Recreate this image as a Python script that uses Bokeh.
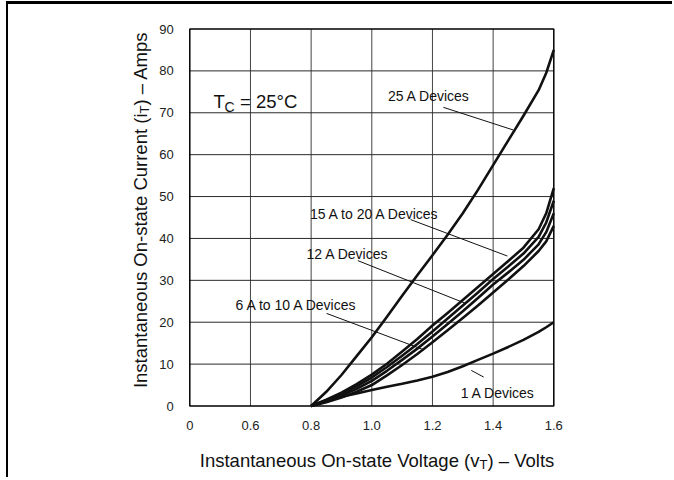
import math
from bokeh.plotting import figure
from bokeh.models import Range1d, FixedTicker, Label, LinearAxis
from bokeh.embed import file_html
from bokeh.resources import INLINE

# ---- data ----
voltage = [0.8, 0.85, 0.9, 0.95, 1.0, 1.05, 1.1, 1.15, 1.2, 1.25, 1.3, 1.35,
           1.4, 1.45, 1.5, 1.55, 1.575, 1.6]
i_25a = [0, 3.4, 7.4, 11.9, 16.4, 21.3, 26.3, 31.2, 36.0, 40.9, 46.0, 51.6,
         57.5, 63.4, 69.3, 75.4, 79.5, 85.0]
i_15_20a = [0, 1.5, 3.2, 5.2, 7.5, 10.1, 13.0, 16.0, 19.2, 22.2, 25.3, 28.4,
            31.5, 34.6, 37.8, 42.2, 46.0, 52.0]
i_12a = [0, 1.3, 2.9, 4.7, 6.8, 9.3, 12.0, 14.8, 17.8, 20.9, 24.0, 27.1,
         30.3, 33.3, 36.4, 40.4, 43.8, 49.0]
i_mid = [0, 1.1, 2.5, 4.1, 6.0, 8.4, 11.0, 13.7, 16.6, 19.6, 22.6, 25.8,
         29.0, 31.9, 34.9, 38.6, 41.5, 46.0]
i_6_10a = [0, 0.9, 2.0, 3.4, 5.0, 7.3, 9.8, 12.4, 15.2, 18.1, 21.0, 24.0,
           27.1, 30.2, 33.4, 37.0, 39.3, 43.0]
i_1a = [0, 1.3, 2.2, 3.0, 3.8, 4.6, 5.3, 6.1, 7.0, 8.1, 9.5, 11.0,
        12.5, 14.1, 15.8, 17.7, 18.8, 20.0]

x_ticks = [0.4, 0.6, 0.8, 1.0, 1.2, 1.4, 1.6]
x_tick_labels = ["0", "0.6", "0.8", "1.0", "1.2", "1.4", "1.6"]
y_ticks = [0, 10, 20, 30, 40, 50, 60, 70, 80, 90]

# annotation labels: (text, volts, amps)
device_labels = [
    ("25 A Devices", 1.053, 73.9),
    ("15 A to 20 A Devices", 0.796, 45.9),
    ("12 A Devices", 0.785, 36.3),
    ("6 A to 10 A Devices", 0.551, 24.0),
    ("1 A Devices", 1.293, 3.05),
]
# leader lines: (v0, a0, v1, a1)
leaders = [
    (1.236, 71.3, 1.466, 65.9),
    (1.128, 44.5, 1.447, 35.8),
    (0.954, 34.7, 1.309, 24.5),
    (0.851, 22.1, 1.172, 13.4),
    (1.328, 8.5, 1.369, 6.9),
]

FONT = "Liberation Sans"
INK = "#111111"

# page-pixel geometry of the chart box (left, right, top, bottom)
BOX_L, BOX_R, BOX_T, BOX_B = 189.3, 553.3, 28.5, 405.5
CANVAS_X0, CANVAS_Y0, CANVAS_W, CANVAS_H = 8, 4, 666, 476
XPP = (x_ticks[-1] - x_ticks[0]) / (BOX_R - BOX_L)
YPP = (y_ticks[-1] - y_ticks[0]) / (BOX_B - BOX_T)

def px2v(px):
    return x_ticks[0] + (px - BOX_L) * XPP

def px2a(py):
    return y_ticks[0] + (BOX_B - py) * YPP

x_range = Range1d(px2v(CANVAS_X0), px2v(CANVAS_X0 + CANVAS_W))
y_range = Range1d(px2a(CANVAS_Y0 + CANVAS_H), px2a(CANVAS_Y0))

p = figure(width=CANVAS_W, height=CANVAS_H, x_range=x_range, y_range=y_range,
           output_backend="svg", toolbar_location=None,
           x_axis_location=None, y_axis_location=None,
           min_border=0, min_border_left=0, min_border_right=0,
           min_border_top=0, min_border_bottom=0)
p.styles = {"border-top": "3px solid black", "border-left": "2px solid black",
            "margin-left": "6px", "margin-top": "1px"}
p.background_fill_color = "white"
p.border_fill_color = "white"
p.outline_line_color = None
p.grid.visible = False

# axes fixed at the box edges
xaxis = LinearAxis(fixed_location=y_ticks[0], ticker=FixedTicker(ticks=x_ticks),
                   major_label_overrides=dict(zip(x_ticks, x_tick_labels)))
yaxis = LinearAxis(fixed_location=x_ticks[0], ticker=FixedTicker(ticks=y_ticks))
for ax in (xaxis, yaxis):
    ax.axis_line_color = None
    ax.major_tick_line_color = None
    ax.minor_tick_line_color = None
    ax.major_tick_out = 0
    ax.major_tick_in = 0
    ax.major_label_text_font = FONT
    ax.major_label_text_font_size = "13px"
    ax.major_label_text_color = "#222222"
xaxis.major_label_standoff = 15
yaxis.major_label_standoff = 16
p.add_layout(xaxis, "below")
p.add_layout(yaxis, "left")

# grid lines inside the box
inner_x = x_ticks[1:-1]
inner_y = y_ticks[1:-1]
p.segment(x0=inner_x, y0=[y_ticks[0]] * len(inner_x), x1=inner_x, y1=[y_ticks[-1]] * len(inner_x),
          line_color="#444444", line_width=1)
p.segment(x0=[x_ticks[0]] * len(inner_y), y0=inner_y, x1=[x_ticks[-1]] * len(inner_y), y1=inner_y,
          line_color="#2a2a2a", line_width=1)
# box outline
p.quad(left=[x_ticks[0]], right=[x_ticks[-1]], bottom=[y_ticks[0]], top=[y_ticks[-1]],
       fill_color=None, line_color="black", line_width=1.5)

for series in (i_25a, i_15_20a, i_12a, i_mid, i_6_10a, i_1a):
    p.line(voltage, series, line_color=INK, line_width=2.6, line_join="round")

p.segment(x0=[l[0] for l in leaders], y0=[l[1] for l in leaders],
          x1=[l[2] for l in leaders], y1=[l[3] for l in leaders],
          line_color=INK, line_width=1)

for txt, v, a in device_labels:
    p.add_layout(Label(x=v, y=a, text=txt, text_font=FONT, text_font_size="14px",
                       text_color=INK, text_baseline="alphabetic", text_align="left"))

def lab(px, py, text, size, align="left", angle=0.0):
    p.add_layout(Label(x=px2v(px), y=px2a(py), text=text, text_font=FONT,
                       text_font_size=size, text_color=INK, text_baseline="alphabetic",
                       text_align=align, angle=angle))

# T_C = 25 C
lab(213, 101, "T", "18.5px")
lab(224, 106, "C", "14px")
lab(239.5, 101, "= 25°C", "18.5px")

# x axis title with subscript
lab(479, 460, "Instantaneous On-state Voltage (v", "18.5px", align="right")
lab(479, 464, "T", "13px")
lab(487, 460, ") – Volts", "18.5px")

# y axis title with subscript (rotated)
lab(139.5, 113, "Instantaneous On-state Current (i", "18.5px", align="right", angle=math.pi / 2)
lab(143.5, 113, "T", "13px", angle=math.pi / 2)
lab(139.5, 105, ") – Amps", "18.5px", angle=math.pi / 2)

open("out.html", "w").write(file_html(p, INLINE))
